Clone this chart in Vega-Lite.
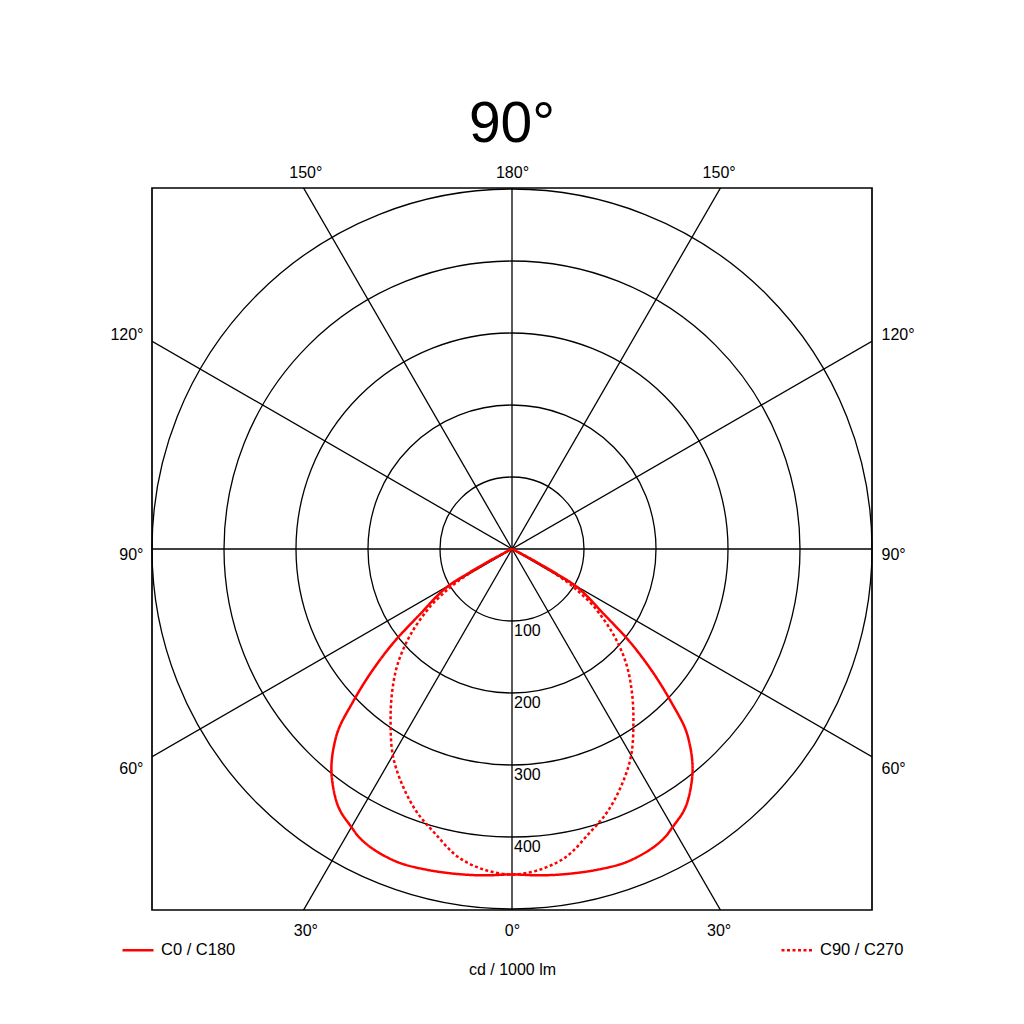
{
  "$schema": "https://vega.github.io/schema/vega-lite/v6.json",
  "description": "Polar light distribution diagram, cd / 1000 lm",
  "width": 720,
  "height": 722,
  "autosize": {"type": "none"},
  "padding": {"left": 152, "top": 188, "right": 152, "bottom": 114},
  "background": "white",
  "title": {"text": "90°", "fontSize": 57, "fontWeight": "normal", "font": "Liberation Sans", "color": "black", "anchor": "middle", "baseline": "alphabetic", "offset": 21, "dy": 56},
  "config": {
    "font": "Liberation Sans",
    "view": {"stroke": "black", "strokeWidth": 1.7},
    "axis": {"grid": false, "domain": false, "ticks": false, "tickSize": 0, "labelFontSize": 16, "labelColor": "black", "labelFont": "Liberation Sans", "titleFontSize": 16, "titleFontWeight": "normal", "titleColor": "black", "titleFont": "Liberation Sans"}
  },
  "datasets": {
    "rings": [{"r": 100}, {"r": 200}, {"r": 300}, {"r": 400}, {"r": 500}],
    "spokes": [{"a": 0}, {"a": 30}, {"a": 60}, {"a": 90}, {"a": 120}, {"a": 150}],
    "curves": [
      {"s": "C0 / C180", "g": -90, "cd": 0}, {"s": "C0 / C180", "g": -80, "cd": 1}, {"s": "C0 / C180", "g": -70, "cd": 2}, {"s": "C0 / C180", "g": -65, "cd": 5},
      {"s": "C0 / C180", "g": -63, "cd": 15}, {"s": "C0 / C180", "g": -62, "cd": 38}, {"s": "C0 / C180", "g": -61, "cd": 70}, {"s": "C0 / C180", "g": -60, "cd": 100},
      {"s": "C0 / C180", "g": -58, "cd": 122}, {"s": "C0 / C180", "g": -55, "cd": 152}, {"s": "C0 / C180", "g": -52, "cd": 204}, {"s": "C0 / C180", "g": -50, "cd": 239},
      {"s": "C0 / C180", "g": -48, "cd": 274}, {"s": "C0 / C180", "g": -46, "cd": 309}, {"s": "C0 / C180", "g": -44, "cd": 346}, {"s": "C0 / C180", "g": -42, "cd": 370},
      {"s": "C0 / C180", "g": -40, "cd": 390}, {"s": "C0 / C180", "g": -38, "cd": 406}, {"s": "C0 / C180", "g": -35, "cd": 426}, {"s": "C0 / C180", "g": -33, "cd": 436},
      {"s": "C0 / C180", "g": -30, "cd": 446}, {"s": "C0 / C180", "g": -28, "cd": 453}, {"s": "C0 / C180", "g": -25, "cd": 459}, {"s": "C0 / C180", "g": -20, "cd": 463},
      {"s": "C0 / C180", "g": -15, "cd": 461}, {"s": "C0 / C180", "g": -10, "cd": 458}, {"s": "C0 / C180", "g": -5, "cd": 455}, {"s": "C0 / C180", "g": 0, "cd": 452},
      {"s": "C0 / C180", "g": 5, "cd": 455}, {"s": "C0 / C180", "g": 10, "cd": 458}, {"s": "C0 / C180", "g": 15, "cd": 461}, {"s": "C0 / C180", "g": 20, "cd": 463},
      {"s": "C0 / C180", "g": 25, "cd": 459}, {"s": "C0 / C180", "g": 28, "cd": 453}, {"s": "C0 / C180", "g": 30, "cd": 446}, {"s": "C0 / C180", "g": 33, "cd": 436},
      {"s": "C0 / C180", "g": 35, "cd": 426}, {"s": "C0 / C180", "g": 38, "cd": 406}, {"s": "C0 / C180", "g": 40, "cd": 390}, {"s": "C0 / C180", "g": 42, "cd": 370},
      {"s": "C0 / C180", "g": 44, "cd": 346}, {"s": "C0 / C180", "g": 46, "cd": 309}, {"s": "C0 / C180", "g": 48, "cd": 274}, {"s": "C0 / C180", "g": 50, "cd": 239},
      {"s": "C0 / C180", "g": 52, "cd": 204}, {"s": "C0 / C180", "g": 55, "cd": 152}, {"s": "C0 / C180", "g": 58, "cd": 122}, {"s": "C0 / C180", "g": 60, "cd": 100},
      {"s": "C0 / C180", "g": 61, "cd": 70}, {"s": "C0 / C180", "g": 62, "cd": 38}, {"s": "C0 / C180", "g": 63, "cd": 15}, {"s": "C0 / C180", "g": 65, "cd": 5},
      {"s": "C0 / C180", "g": 70, "cd": 2}, {"s": "C0 / C180", "g": 80, "cd": 1}, {"s": "C0 / C180", "g": 90, "cd": 0},
      {"s": "C90 / C270", "g": -90, "cd": 0}, {"s": "C90 / C270", "g": -70, "cd": 1}, {"s": "C90 / C270", "g": -65, "cd": 4}, {"s": "C90 / C270", "g": -63, "cd": 10},
      {"s": "C90 / C270", "g": -62, "cd": 24}, {"s": "C90 / C270", "g": -61, "cd": 48}, {"s": "C90 / C270", "g": -60, "cd": 72}, {"s": "C90 / C270", "g": -59, "cd": 90},
      {"s": "C90 / C270", "g": -58, "cd": 103}, {"s": "C90 / C270", "g": -57, "cd": 115}, {"s": "C90 / C270", "g": -55, "cd": 138}, {"s": "C90 / C270", "g": -50, "cd": 183},
      {"s": "C90 / C270", "g": -45, "cd": 224}, {"s": "C90 / C270", "g": -40, "cd": 259}, {"s": "C90 / C270", "g": -35, "cd": 294}, {"s": "C90 / C270", "g": -30, "cd": 331},
      {"s": "C90 / C270", "g": -25, "cd": 361}, {"s": "C90 / C270", "g": -20, "cd": 388}, {"s": "C90 / C270", "g": -15, "cd": 410}, {"s": "C90 / C270", "g": -10, "cd": 434},
      {"s": "C90 / C270", "g": -5, "cd": 447}, {"s": "C90 / C270", "g": 0, "cd": 452}, {"s": "C90 / C270", "g": 5, "cd": 447}, {"s": "C90 / C270", "g": 10, "cd": 434},
      {"s": "C90 / C270", "g": 15, "cd": 410}, {"s": "C90 / C270", "g": 20, "cd": 388}, {"s": "C90 / C270", "g": 25, "cd": 361}, {"s": "C90 / C270", "g": 30, "cd": 331},
      {"s": "C90 / C270", "g": 35, "cd": 294}, {"s": "C90 / C270", "g": 40, "cd": 259}, {"s": "C90 / C270", "g": 45, "cd": 224}, {"s": "C90 / C270", "g": 50, "cd": 183},
      {"s": "C90 / C270", "g": 55, "cd": 138}, {"s": "C90 / C270", "g": 57, "cd": 115}, {"s": "C90 / C270", "g": 58, "cd": 103}, {"s": "C90 / C270", "g": 59, "cd": 90},
      {"s": "C90 / C270", "g": 60, "cd": 72}, {"s": "C90 / C270", "g": 61, "cd": 48}, {"s": "C90 / C270", "g": 62, "cd": 24}, {"s": "C90 / C270", "g": 63, "cd": 10},
      {"s": "C90 / C270", "g": 65, "cd": 4}, {"s": "C90 / C270", "g": 70, "cd": 1}, {"s": "C90 / C270", "g": 90, "cd": 0}
    ]
  },
  "layer": [
    {
      "data": {"name": "spokes"},
      "transform": [
        {"calculate": "600*sin(datum.a*PI/180)", "as": "x1"},
        {"calculate": "600*cos(datum.a*PI/180)", "as": "y1"},
        {"calculate": "-datum.x1", "as": "x2"},
        {"calculate": "-datum.y1", "as": "y2"}
      ],
      "mark": {"type": "rule", "clip": true, "color": "black", "strokeWidth": 1.3},
      "encoding": {
        "x": {
          "field": "x1", "type": "quantitative",
          "scale": {"domain": [-500, 500], "nice": false, "zero": false},
          "axis": {"orient": "bottom", "values": [-287, 0, 287], "labelExpr": "datum.value == 0 ? '0°' : '30°'", "labelPadding": 12, "title": "cd / 1000 lm", "titleY": 64, "titleBaseline": "alphabetic"}
        },
        "y": {
          "field": "y1", "type": "quantitative",
          "scale": {"domain": [-501.39, 501.39], "nice": false, "zero": false},
          "axis": {"orient": "left", "values": [298.6, -7.6, -304.9], "labelExpr": "datum.value > 100 ? '120°' : datum.value < -100 ? '60°' : '90°'", "labelPadding": 9, "title": null}
        },
        "x2": {"field": "x2"},
        "y2": {"field": "y2"}
      }
    },
    {
      "data": {"name": "rings"},
      "mark": {"type": "arc", "filled": false, "stroke": "black", "strokeWidth": 1.3, "theta": 0, "theta2": 6.2832},
      "encoding": {
        "x": {"datum": 0, "type": "quantitative", "axis": null},
        "y": {"datum": 0, "type": "quantitative", "axis": null},
        "radius": {"field": "r", "type": "quantitative", "stack": null, "scale": {"type": "linear", "domain": [0, 500], "range": [0, 360], "zero": true}, "legend": null}
      }
    },
    {
      "data": {"name": "curves"},
      "transform": [
        {"calculate": "datum.cd*sin(datum.g*PI/180)", "as": "px"},
        {"calculate": "-datum.cd*cos(datum.g*PI/180)", "as": "py"}
      ],
      "mark": {"type": "line", "color": "#ff0000", "strokeWidth": 2.5, "clip": true, "interpolate": "catmull-rom"},
      "encoding": {
        "x": {
          "field": "px", "type": "quantitative",
          "axis": {"orient": "top", "values": [-287, 0, 287], "labelExpr": "datum.value == 0 ? '180°' : '150°'", "labelPadding": 8, "title": null}
        },
        "y": {
          "field": "py", "type": "quantitative",
          "axis": {"orient": "right", "values": [298.6, -7.6, -304.9], "labelExpr": "datum.value > 100 ? '120°' : datum.value < -100 ? '60°' : '90°'", "labelPadding": 9, "title": null}
        },
        "order": {"field": "g", "type": "quantitative"},
        "strokeDash": {
          "field": "s", "type": "nominal",
          "scale": {"domain": ["C0 / C180", "C90 / C270"], "range": [[1, 0], [3, 2.5]]},
          "legend": {"title": null, "orient": "none", "legendX": -31, "legendY": 745, "direction": "horizontal", "columns": 2, "columnPadding": 540, "symbolType": "stroke", "symbolSize": 961, "symbolStrokeWidth": 2.5, "symbolStrokeColor": "#ff0000", "labelFontSize": 16.5, "labelOffset": 6, "labelColor": "black", "labelLimit": 300}
        }
      }
    },
    {
      "data": {"name": "rings"},
      "transform": [
        {"filter": "datum.r < 500"},
        {"calculate": "-datum.r", "as": "ny"}
      ],
      "mark": {"type": "text", "align": "left", "baseline": "top", "dx": 2, "dy": 2, "fontSize": 16, "color": "black"},
      "encoding": {
        "x": {"datum": 0, "type": "quantitative", "axis": null},
        "y": {"field": "ny", "type": "quantitative", "axis": null},
        "text": {"field": "r", "type": "quantitative"}
      }
    }
  ],
  "resolve": {"axis": {"x": "independent", "y": "independent"}}
}
